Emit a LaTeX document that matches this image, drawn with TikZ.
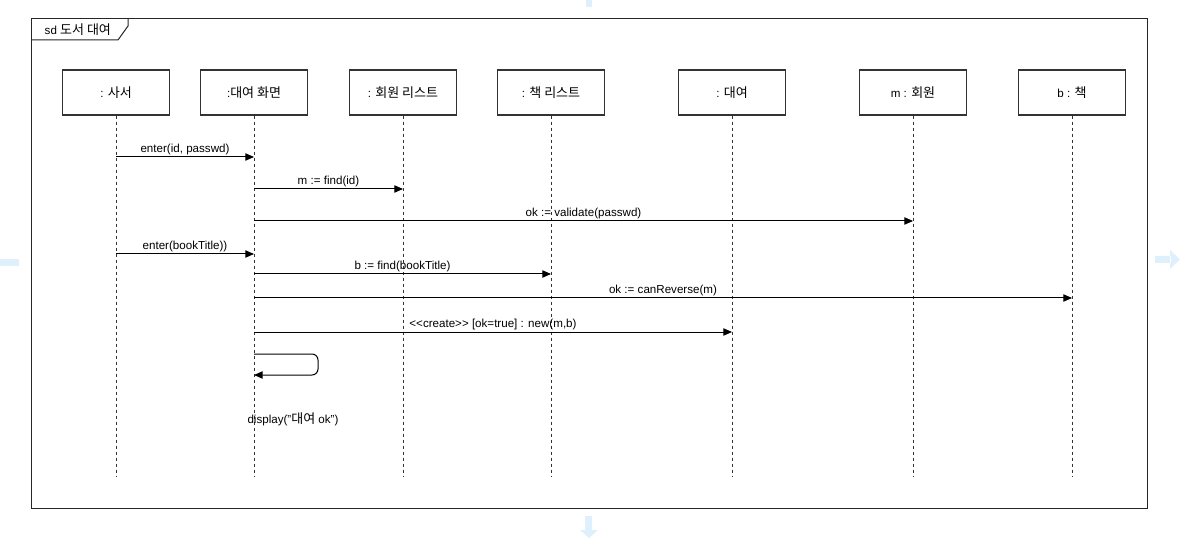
\documentclass[tikz,border=0pt]{standalone}
\usepackage{fontspec}
\setmainfont{Liberation Sans}
\newfontfamily\krfont[Scale=1.12]{Noto Sans CJK KR}
\newcommand{\kr}[1]{{\krfont #1}}
\usetikzlibrary{arrows.meta}
\definecolor{hint blue}{RGB}{221,240,252}

\tikzset{
	obj/.style={draw=black!80, line width=0.9pt, minimum width=80.25pt, minimum height=33.75pt, inner sep=0pt},
	life/.style={black!80, line width=0.75pt, dash pattern=on 2.25pt off 2.25pt},
	msg/.style={line width=0.75pt, -{Triangle[length=6.5pt, width=5.5pt]}},
	lbl/.style={midway, above=0.5pt, inner sep=1pt}
}

\begin{document}
\begin{tikzpicture}[x=0.75pt, y=-0.75pt, font=\fontsize{8.7}{10}\selectfont]
			\useasboundingbox (0,0) rectangle (1180,541);
			% faint hover arrows
			\fill[hint blue] (0,259) rectangle (19,266);
			\fill[hint blue] (1155,256) rectangle (1171,263) (1170,250) -- (1180,259.5) -- (1170,269) -- cycle;
			\fill[hint blue] (586,0) rectangle (592,7);
			\fill[hint blue] (585,516) rectangle (592,530) (580,530) -- (598,530) -- (589,538) -- cycle;
			% frame
			\draw[black!85, line width=0.75pt] (31,19) rectangle (1147,508);
			\draw[black!85, line width=0.75pt] (31,40) -- (118,40) -- (128,26) -- (128,19);
			\node[anchor=west] (frm) at (40,30) {sd \kr{도서 대여}};
			% objects
			\node[obj] (sa) at (116,92.5) {: \kr{사서}};
			\node[obj] (hw) at (254,92.5) {:\kr{대여 화면}};
			\node[obj] (ml) at (403,92.5) {: \kr{회원 리스트}};
			\node[obj] (bl) at (551,92.5) {: \kr{책 리스트}};
			\node[obj] (ln) at (732,92.5) {: \kr{대여}};
			\node[obj] (mb) at (913,92.5) {m : \kr{회원}};
			\node[obj] (bk) at (1072,92.5) {b : \kr{책}};
			% lifelines
			\draw[life] (sa) -- (sa |- 0,476);
			\draw[life] (hw) -- (hw |- 0,476);
			\draw[life] (ml) -- (ml |- 0,476);
			\draw[life] (bl) -- (bl |- 0,476);
			\draw[life] (ln) -- (ln |- 0,476);
			\draw[life] (mb) -- (mb |- 0,476);
			\draw[life] (bk) -- (bk |- 0,476);
			% messages
			\draw[msg] (sa |- 0,157) -- node[lbl]{enter(id, passwd)} (hw |- 0,157);
			\draw[msg] (hw |- 0,189) -- node[lbl]{m := find(id)} (ml |- 0,189);
			\draw[msg] (hw |- 0,221) -- node[lbl]{ok := validate(passwd)} (mb |- 0,221);
			\draw[msg] (sa |- 0,254) -- node[lbl]{enter(bookTitle))} (hw |- 0,254);
			\draw[msg] (hw |- 0,274) -- node[lbl]{b := find(bookTitle)} (bl |- 0,274);
			\draw[msg] (hw |- 0,298) -- node[lbl]{ok := canReverse(m)} (bk |- 0,298);
			\draw[msg] (hw |- 0,332) -- node[lbl]{<{}<create>{}> [ok=true] : new(m,b)} (ln |- 0,332);
			\draw[msg, rounded corners=4.5pt] (hw |- 0,354) -| (318,375) -- (hw |- 0,375);
			\node (dsp) at (293,419) {display("\kr{대여} ok")};
		\end{tikzpicture}
\end{document}
